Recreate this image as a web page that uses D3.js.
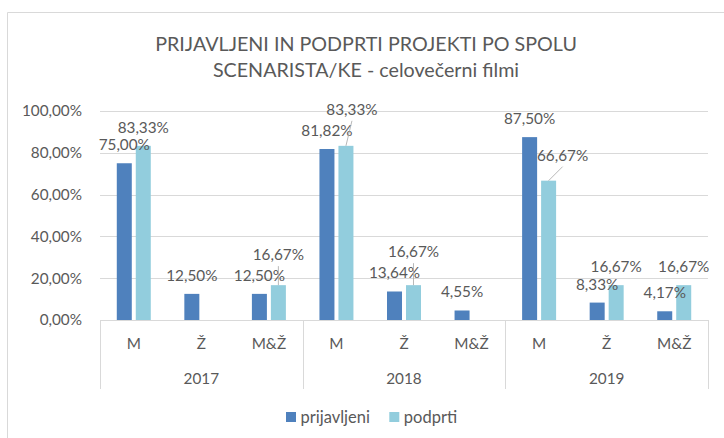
<!DOCTYPE html>
<html>
<head>
<meta charset="utf-8">
<script src="https://cdn.jsdelivr.net/npm/d3@7"></script>
<style>
  html, body { margin: 0; padding: 0; background: #fff; }
  svg { display: block; font-family: Lato, "Open Sans", sans-serif; }
</style>
</head>
<body>
<svg id="chart" width="724" height="438"></svg>
<script>
// ---- data ----
const titleLines = ["PRIJAVLJENI IN PODPRTI PROJEKTI PO SPOLU", "SCENARISTA/KE - celovečerni filmi"];
const years = ["2017", "2018", "2019"];
const genders = ["M", "Ž", "M&Ž"];
const seriesNames = ["prijavljeni", "podprti"];
const prijavljeni = [0.75, 0.125, 0.125, 0.8182, 0.1364, 0.0455, 0.875, 0.0833, 0.0417];
const podprti = [0.8333, null, 0.1667, 0.8333, 0.1667, null, 0.6667, 0.1667, 0.1667];
const yTicks = [0, 0.2, 0.4, 0.6, 0.8, 1.0];
// manual label displacement (label moved in the original, with leader line)
const podprtiLabelShift = [null, null, [0, -12], [6, -18], [0, -15], null, [14, -7], null, null];

// ---- layout ----
const W = 724, H = 438;
const plot = { left: 100, right: 708, top: 111, bottom: 320 };
const colors = { prijavljeni: "#4F81BD", podprti: "#92CDDD" };
const textColor = "#595959";
const gridColor = "#D9D9D9";

const svg = d3.select("#chart");
const locale = d3.formatLocale({ decimal: ",", thousands: ".", grouping: [3], currency: ["", "€"] });
const fmt = locale.format(".2%");

// chart border
svg.append("path")
  .attr("d", `M7.5,${H} V12.5 H${W}`)
  .attr("fill", "none").attr("stroke", gridColor).attr("stroke-width", 1);

// title
const title = svg.append("text")
  .attr("text-anchor", "middle")
  .attr("fill", textColor)
  .style("font-size", "19.7px");
titleLines.forEach((t, i) => {
  title.append("tspan").attr("x", 366).attr("y", i === 0 ? 51 : 77).text(t);
});

// scales
const cats = [];
years.forEach(y => genders.forEach(g => cats.push(y + "|" + g)));
const x0 = d3.scaleBand().domain(cats).range([plot.left, plot.right]).paddingInner(0).paddingOuter(0);
const x1 = d3.scaleBand().domain(seriesNames).range([0, x0.bandwidth()]).paddingInner(0.21).paddingOuter(0.884);
const xYear = d3.scaleBand().domain(years).range([plot.left, plot.right]);
const y = d3.scaleLinear().domain([0, 1]).range([plot.bottom, plot.top]);

// gridlines
svg.append("g").selectAll("line").data(yTicks.slice(1)).join("line")
  .attr("x1", plot.left).attr("x2", plot.right)
  .attr("y1", d => Math.round(y(d)) + 0.5).attr("y2", d => Math.round(y(d)) + 0.5)
  .attr("stroke", gridColor).attr("stroke-width", 1);

// y axis labels
const yAxis = d3.axisLeft(y).tickValues(yTicks).tickFormat(fmt).tickSize(0).tickPadding(18);
const gy = svg.append("g").attr("transform", `translate(${plot.left},0)`).call(yAxis);
gy.select(".domain").remove();
gy.selectAll("text").attr("fill", textColor).style("font-size", "15.3px").style("font-family", "Lato, sans-serif");

// bars
const rows = cats.map((c, i) => ({ cat: c, values: [
  { s: "prijavljeni", v: prijavljeni[i], i },
  { s: "podprti", v: podprti[i], i }
]}));
const gBars = svg.append("g");
rows.forEach(r => {
  r.values.filter(d => d.v != null).forEach(d => {
    gBars.append("rect")
      .attr("x", x0(r.cat) + x1(d.s))
      .attr("width", x1.bandwidth())
      .attr("y", y(d.v))
      .attr("height", y(0) - y(d.v))
      .attr("fill", colors[d.s]);
  });
});

// category axis
const gx = svg.append("g");
gx.append("line").attr("x1", plot.left).attr("x2", plot.right)
  .attr("y1", plot.bottom + 0.5).attr("y2", plot.bottom + 0.5)
  .attr("stroke", gridColor);
years.forEach((yr, k) => {
  [xYear(yr), xYear(yr) + xYear.bandwidth()].forEach((xx, j) => {
    if (k > 0 && j === 0) return;
    gx.append("line").attr("x1", Math.round(xx) + 0.5).attr("x2", Math.round(xx) + 0.5)
      .attr("y1", plot.bottom).attr("y2", 389).attr("stroke", gridColor);
  });
  gx.append("text").attr("x", xYear(yr) + xYear.bandwidth() / 2).attr("y", 383.5)
    .attr("text-anchor", "middle").attr("fill", textColor).style("font-size", "15.3px").text(yr);
});
cats.forEach(c => {
  gx.append("text").attr("x", x0(c) + x0.bandwidth() / 2).attr("y", 349)
    .attr("text-anchor", "middle").attr("fill", textColor).style("font-size", "15.3px")
    .text(c.split("|")[1]);
});

// data labels
const gLab = svg.append("g").style("font-size", "15.3px").attr("fill", textColor);
rows.forEach((r, ci) => {
  r.values.filter(d => d.v != null).forEach(d => {
    const bx = x0(r.cat) + x1(d.s) + x1.bandwidth() / 2;
    const top = y(d.v);
    let lx = bx, ly = top - 18.5;
    const shift = d.s === "podprti" ? podprtiLabelShift[ci] : null;
    if (shift) {
      lx += shift[0]; ly += shift[1];
      gLab.append("line").attr("x1", lx).attr("y1", ly + 11.5).attr("x2", bx).attr("y2", top)
        .attr("stroke", "#A6A6A6").attr("stroke-width", 0.8);
    }
    gLab.append("text").attr("x", lx).attr("y", ly + 5.5).attr("text-anchor", "middle").text(fmt(d.v));
  });
});

// legend
const legend = svg.append("g").style("font-size", "16.5px");
const legendItems = [{ s: "prijavljeni", x: 286 }, { s: "podprti", x: 389.3 }];
legendItems.forEach(it => {
  legend.append("rect").attr("x", it.x).attr("y", 412).attr("width", 10).attr("height", 10).attr("fill", colors[it.s]);
  legend.append("text").attr("x", it.x + 14.5).attr("y", 422.5).attr("fill", textColor).text(it.s);
});
</script>
</body>
</html>
